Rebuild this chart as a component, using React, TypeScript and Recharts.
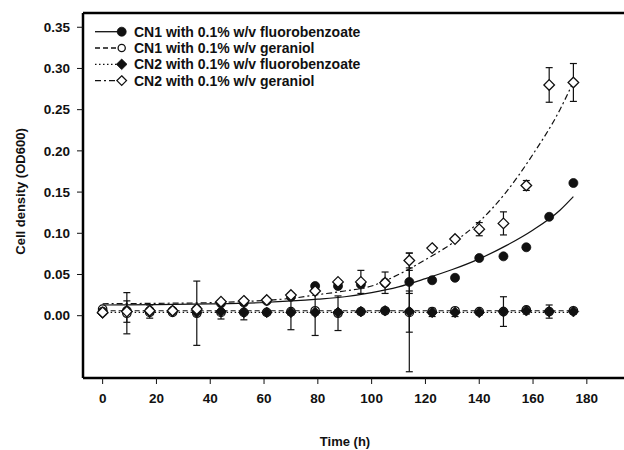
import React from 'react';
import { ComposedChart, Scatter, Line, XAxis, YAxis, ErrorBar, ReferenceLine, Legend } from 'recharts';

// ---- data ----
const times = [0, 9, 17.5, 26, 35, 44, 52.5, 61, 70, 79, 87.5, 96, 105, 114, 122.5, 131, 140, 149, 157.5, 166, 175];

const cn1Fluoro = [0.005, 0.006, 0.006, 0.006, 0.008, 0.015, 0.016, 0.018, 0.023, 0.036, 0.036, 0.038, 0.040, 0.041, 0.043, 0.046, 0.070, 0.072, 0.083, 0.120, 0.161];
const cn1FluoroErr = [0.002, 0.002, 0.002, 0.002, 0.002, 0.002, 0.002, 0.002, 0.002, 0.002, 0.002, 0.002, 0.002, 0.014, 0.002, 0.002, 0.002, 0.002, 0.002, 0.002, 0.002];

const cn1Geraniol = [0.008, 0.003, 0.004, 0.004, 0.003, 0.004, 0.004, 0.004, 0.005, 0.006, 0.003, 0.005, 0.006, 0.004, 0.005, 0.006, 0.005, 0.005, 0.007, 0.005, 0.006];
const cn1GeraniolErr = [0.002, 0.025, 0.002, 0.002, 0.039, 0.002, 0.002, 0.002, 0.022, 0.030, 0.021, 0.002, 0.002, 0.072, 0.002, 0.002, 0.002, 0.018, 0.002, 0.002, 0.002];

const cn2Fluoro = [0.003, 0.005, 0.005, 0.005, 0.004, 0.005, 0.004, 0.004, 0.004, 0.004, 0.004, 0.005, 0.006, 0.005, 0.004, 0.004, 0.004, 0.005, 0.006, 0.005, 0.005];
const cn2FluoroErr = [0.002, 0.013, 0.008, 0.003, 0.003, 0.009, 0.009, 0.003, 0.003, 0.003, 0.003, 0.003, 0.003, 0.025, 0.005, 0.005, 0.003, 0.003, 0.004, 0.008, 0.003];

const cn2Geraniol = [0.004, 0.005, 0.006, 0.006, 0.008, 0.017, 0.018, 0.019, 0.025, 0.030, 0.041, 0.041, 0.040, 0.067, 0.082, 0.093, 0.105, 0.112, 0.158, 0.280, 0.283];
const cn2GeraniolErr = [0.002, 0.002, 0.002, 0.002, 0.002, 0.002, 0.002, 0.002, 0.002, 0.002, 0.002, 0.014, 0.013, 0.009, 0.002, 0.002, 0.008, 0.014, 0.006, 0.021, 0.023];

// fitted curves
const fitTimesCn1Fluoro = [0, 20, 40, 60, 80, 90, 100, 110, 120, 130, 140, 150, 160, 170, 175];
const fitCn1Fluoro = [0.013, 0.0135, 0.0143, 0.016, 0.020, 0.023, 0.028, 0.035, 0.045, 0.056, 0.069, 0.085, 0.104, 0.128, 0.1445];

const fitTimesCn2Geraniol = [0, 20, 40, 60, 70, 80, 90, 100, 110, 120, 130, 140, 150, 160, 170, 175];
const fitCn2Geraniol = [0.0145, 0.015, 0.0158, 0.0185, 0.021, 0.0255, 0.030, 0.036, 0.050, 0.068, 0.088, 0.114, 0.150, 0.196, 0.250, 0.284];

const fitTimesFlat = [0, 175];
const fitCn1Geraniol = [0.006, 0.006];
const fitCn2Fluoro = [0.004, 0.004];

const xTicks = [0, 20, 40, 60, 80, 100, 120, 140, 160, 180];
const yTicks = [0, 0.05, 0.1, 0.15, 0.2, 0.25, 0.3, 0.35];

const legendLabels = [
  'CN1 with 0.1% w/v fluorobenzoate',
  'CN1 with 0.1% w/v geraniol',
  'CN2 with 0.1% w/v fluorobenzoate',
  'CN2 with 0.1% w/v geraniol',
];

// ---- build series ----
const pts = (ys: number[], es: number[]) => times.map((t, i) => ({ x: t, y: ys[i], err: es[i] }));
const fit = (xs: number[], ys: number[]) => xs.map((t, i) => ({ x: t, y: ys[i] }));

const FONT = '"Liberation Sans", Arial, Helvetica, sans-serif';
const INK = '#111';
const FRAME_INK = '#000';
const DASH = { solid: undefined, dashed: '5 3', dotted: '1.5 2.5', dashdot: '6 3 2 3' } as const;

const X_MIN = -7.3, X_MAX = 195.3, Y_MIN = -0.0756, Y_MAX = 0.3673;
const PLOT_LEFT = 83, PLOT_TOP = 13, PLOT_BOTTOM = 378, CHART_W = 630, CHART_H = 450;

const diamondPath = (cx: number, cy: number, h: number) =>
  `M${cx},${cy - h}L${cx + h},${cy}L${cx},${cy + h}L${cx - h},${cy}Z`;

const FilledCircle = (p: any) => <circle cx={p.cx} cy={p.cy} r={4.5} fill={INK} stroke={INK} strokeWidth={0.8} />;
const OpenCircle = (p: any) => <circle cx={p.cx} cy={p.cy} r={4.2} fill="#fff" stroke={INK} strokeWidth={1.3} />;
const FilledDiamond = (p: any) => <path d={diamondPath(p.cx, p.cy, 5.3)} fill={INK} stroke={INK} strokeWidth={0.8} />;
const OpenDiamond = (p: any) => <path d={diamondPath(p.cx, p.cy, 5.3)} fill="#fff" stroke={INK} strokeWidth={1.3} />;

const markerFor = (i: number, cx: number, cy: number) => {
  if (i === 0) return <FilledCircle cx={cx} cy={cy} />;
  if (i === 1) return <circle cx={cx} cy={cy} r={3.6} fill="#fff" stroke={INK} strokeWidth={1.3} />;
  if (i === 2) return <FilledDiamond cx={cx} cy={cy} />;
  return <path d={diamondPath(cx, cy, 4.8)} fill="#fff" stroke={INK} strokeWidth={1.3} />;
};
const legendDash = [DASH.solid, DASH.dashed, DASH.dotted, DASH.dashdot];

const LegendContent = () => (
  <svg width={290} height={75} viewBox="90 20 290 75" style={{ display: 'block' }}>
    {legendLabels.map((lab, i) => {
      const y = 31.7 + 16.3 * i;
      return (
        <g key={lab}>
          <line x1={95} x2={121.7} y1={y} y2={y} stroke={INK} strokeWidth={1.3} strokeDasharray={legendDash[i]} />
          {markerFor(i, 121.7, y)}
          <text x={134} y={y} dominantBaseline="central" fontFamily={FONT} fontWeight="bold" fontSize={14} fill={INK}>
            {lab}
          </text>
        </g>
      );
    })}
  </svg>
);

const tickStyle = { fill: INK, fontSize: 13.5, fontWeight: 'bold', fontFamily: FONT } as any;
const frame = { stroke: FRAME_INK, strokeWidth: 2.5 };

export default function App() {
  return (
    <div style={{ position: 'relative', width: 624, height: 450, overflow: 'hidden', background: '#fff' }}>
      <style>{'html,body{margin:0;padding:0;overflow:hidden;}'}</style>
      <ComposedChart width={CHART_W} height={CHART_H} margin={{ top: PLOT_TOP, right: 2, bottom: 0, left: 0 }}>
        <XAxis
          dataKey="x"
          type="number"
          domain={[X_MIN, X_MAX]}
          allowDataOverflow
          ticks={xTicks}
          interval={0}
          axisLine={frame}
          tickLine={{ stroke: INK, strokeWidth: 1 }}
          tickSize={6}
          tickMargin={9}
          height={CHART_H - PLOT_BOTTOM}
          tick={tickStyle}
          label={{
            content: (props: any) => {
              const vb = props.viewBox || { x: PLOT_LEFT };
              return (
                <text x={vb.x + 262} y={445.5} textAnchor="middle" fontFamily={FONT} fontWeight="bold" fontSize={13} fill={INK}>
                  Time (h)
                </text>
              );
            },
          }}
        />
        <YAxis
          dataKey="y"
          type="number"
          domain={[Y_MIN, Y_MAX]}
          allowDataOverflow
          ticks={yTicks}
          interval={0}
          axisLine={frame}
          tickLine={{ stroke: INK, strokeWidth: 1 }}
          tickSize={6}
          tickMargin={7}
          width={PLOT_LEFT}
          tick={tickStyle}
          tickFormatter={(v: number) => v.toFixed(2)}
          label={{
            content: () => (
              <text
                x={20}
                y={191.5}
                transform="rotate(-90 20 191.5)"
                textAnchor="middle"
                dominantBaseline="central"
                fontFamily={FONT}
                fontWeight="bold"
                fontSize={13}
                fill={INK}
              >
                Cell density (OD600)
              </text>
            ),
          }}
        />
        <ReferenceLine y={Y_MAX} stroke={FRAME_INK} strokeWidth={2.5} ifOverflow="visible" />

        <Line data={fit(fitTimesFlat, fitCn1Geraniol)} dataKey="y" type="linear" stroke={INK} strokeWidth={1.2} strokeDasharray={DASH.dashed} dot={false} activeDot={false} isAnimationActive={false} legendType="none" />
        <Line data={fit(fitTimesFlat, fitCn2Fluoro)} dataKey="y" type="linear" stroke={INK} strokeWidth={1.2} strokeDasharray={DASH.dotted} dot={false} activeDot={false} isAnimationActive={false} legendType="none" />
        <Line data={fit(fitTimesCn1Fluoro, fitCn1Fluoro)} dataKey="y" type="monotone" stroke={INK} strokeWidth={1.2} dot={false} activeDot={false} isAnimationActive={false} legendType="none" />
        <Line data={fit(fitTimesCn2Geraniol, fitCn2Geraniol)} dataKey="y" type="monotone" stroke={INK} strokeWidth={1.2} strokeDasharray={DASH.dashdot} dot={false} activeDot={false} isAnimationActive={false} legendType="none" />

        <Scatter data={pts(cn1Geraniol, cn1GeraniolErr)} dataKey="y" shape={OpenCircle} isAnimationActive={false}>
          <ErrorBar dataKey="err" direction="y" width={3.5} stroke={INK} strokeWidth={1.2} isAnimationActive={false} />
        </Scatter>
        <Scatter data={pts(cn2Fluoro, cn2FluoroErr)} dataKey="y" shape={FilledDiamond} isAnimationActive={false}>
          <ErrorBar dataKey="err" direction="y" width={3.5} stroke={INK} strokeWidth={1.2} isAnimationActive={false} />
        </Scatter>
        <Scatter data={pts(cn1Fluoro, cn1FluoroErr)} dataKey="y" shape={FilledCircle} isAnimationActive={false}>
          <ErrorBar dataKey="err" direction="y" width={3.5} stroke={INK} strokeWidth={1.2} isAnimationActive={false} />
        </Scatter>
        <Scatter data={pts(cn2Geraniol, cn2GeraniolErr)} dataKey="y" shape={OpenDiamond} isAnimationActive={false}>
          <ErrorBar dataKey="err" direction="y" width={3.5} stroke={INK} strokeWidth={1.2} isAnimationActive={false} />
        </Scatter>

        <Legend
          layout="vertical"
          align="center"
          verticalAlign="middle"
          content={() => <LegendContent />}
          wrapperStyle={{ position: 'absolute', left: 90, top: 20, width: 290, height: 75, margin: 0, padding: 0 }}
        />
      </ComposedChart>
    </div>
  );
}
